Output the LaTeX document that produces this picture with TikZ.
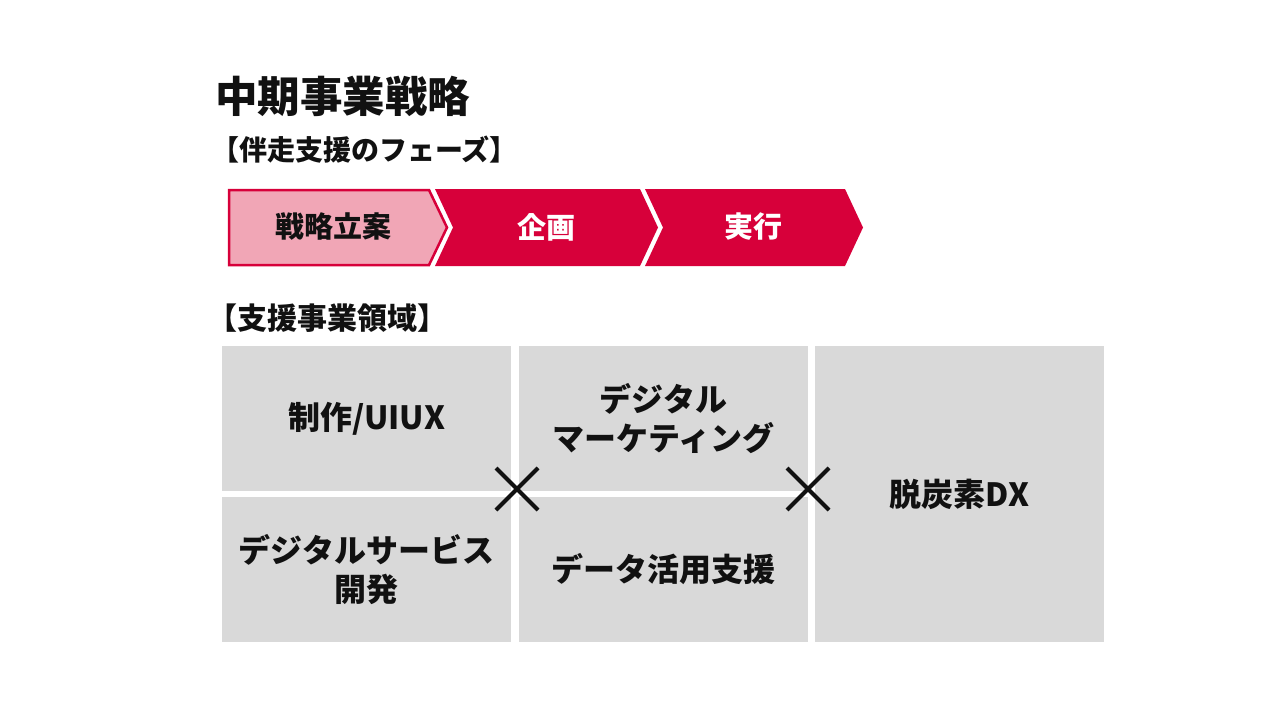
\documentclass[tikz,border=0pt]{standalone}
\usepackage{fontspec}
\setmainfont{Noto Sans CJK JP}
\definecolor{brandred}{RGB}{215,0,58}
\definecolor{brandpink}{RGB}{241,166,182}
\definecolor{boxgray}{RGB}{217,217,217}
\definecolor{ink}{RGB}{17,17,17}
\begin{document}
\begin{tikzpicture}[x=1pt,y=-1pt,
  head/.style={anchor=west, inner sep=0pt, text=ink, font=\fontsize{#1}{#1}\selectfont\bfseries},
  area/.style={fill=boxgray, draw=none, inner sep=0pt, align=center, text=ink,
    font=\fontsize{32}{39}\selectfont\bfseries},
  phasetxt/.style={inner sep=0pt, font=\fontsize{29}{29}\selectfont\bfseries},
  cross/.style={line width=4pt, ink}]
\useasboundingbox (0,0) rectangle (1280,720);
\node[head=42.5] (title) at (215,96) {中期事業戦略};
\node[head=28] (phasehead) at (211,150) {【伴走支援のフェーズ】};
\node[head=30] (areahead) at (207,318) {【支援事業領域】};
% phases
\draw[fill=brandpink, draw=brandred, line width=2.5pt]
  (229,190) -- (429,190) -- (447,227.5) -- (429,265) -- (229,265) -- cycle;
\fill[brandred] (435,189) -- (640,189) -- (658,227.5) -- (640,266) -- (435,266) -- (453,227.5) -- cycle;
\fill[brandred] (645,189) -- (845,189) -- (863,227.5) -- (845,266) -- (645,266) -- (663,227.5) -- cycle;
\node[phasetxt, text=ink] (p1) at (333,227) {戦略立案};
\node[phasetxt, text=white] (p2) at (546,227) {企画};
\node[phasetxt, text=white] (p3) at (753,227) {実行};
% areas
\node[area, minimum width=289pt, minimum height=145pt] (a1) at (366.5,418.5) {制作/UIUX};
\node[area, minimum width=289pt, minimum height=145pt] (a2) at (366.5,569.5) {デジタルサービス\\開発};
\node[area, minimum width=289pt, minimum height=145pt] (a3) at (663.5,418.5) {デジタル\\マーケティング};
\node[area, minimum width=289pt, minimum height=145pt] (a4) at (663.5,569.5) {データ活用支援};
\node[area, minimum width=289pt, minimum height=296pt] (a5) at (959.5,494) {脱炭素DX};
% crosses
\coordinate (c1) at (517,489);
\coordinate (c2) at (808,489);
\draw[cross] ([shift={(-21,-21)}]c1) -- ([shift={(21,21)}]c1);
\draw[cross] ([shift={(-21,21)}]c1) -- ([shift={(21,-21)}]c1);
\draw[cross] ([shift={(-21,-21)}]c2) -- ([shift={(21,21)}]c2);
\draw[cross] ([shift={(-21,21)}]c2) -- ([shift={(21,-21)}]c2);
\end{tikzpicture}
\end{document}
